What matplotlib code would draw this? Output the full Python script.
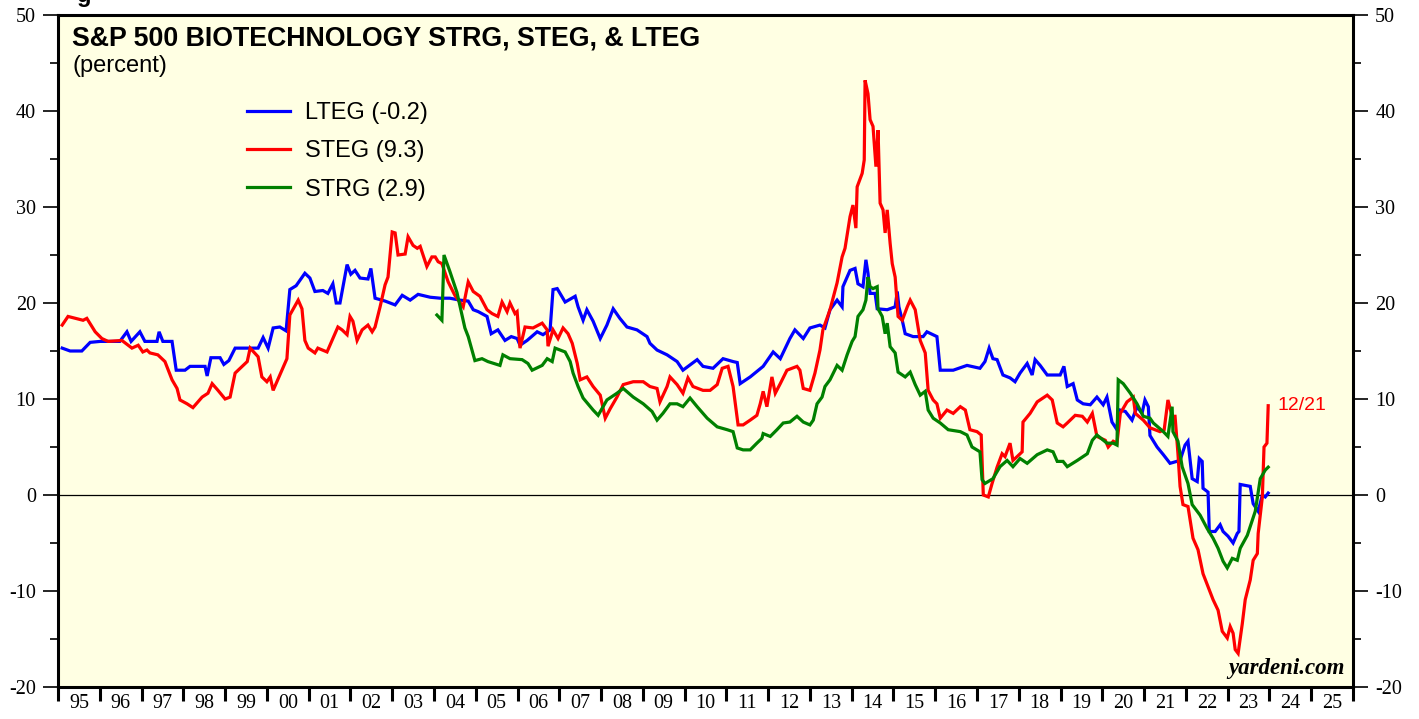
import matplotlib
matplotlib.use("Agg")
import matplotlib.pyplot as plt
from matplotlib.ticker import MultipleLocator, FixedLocator, NullFormatter, FixedFormatter

plt.rcParams["axes.unicode_minus"] = False

# ---------------- data (decimal year, percent) ----------------
lteg_t = [1995.10, 1995.29, 1995.57, 1995.77, 1996.01, 1996.48, 1996.65, 1996.75, 1996.96, 1997.08,
          1997.37, 1997.42, 1997.51, 1997.73, 1997.83, 1998.04, 1998.16, 1998.52, 1998.57, 1998.66,
          1998.88, 1998.97, 1999.09, 1999.24, 1999.79, 1999.91, 2000.03, 2000.15, 2000.31, 2000.46,
          2000.55, 2000.70, 2000.91, 2001.03, 2001.15, 2001.34, 2001.46, 2001.58, 2001.66, 2001.75,
          2001.92, 2002.01, 2002.11, 2002.23, 2002.42, 2002.49, 2002.59, 2002.83, 2003.07, 2003.24,
          2003.43, 2003.62, 2003.91, 2004.15, 2004.38, 2004.62, 2004.82, 2004.94, 2005.06, 2005.27,
          2005.37, 2005.53, 2005.70, 2005.85, 2005.99, 2006.06, 2006.23, 2006.47, 2006.61, 2006.78,
          2006.85, 2006.95, 2007.14, 2007.38, 2007.45, 2007.57, 2007.66, 2007.81, 2007.98, 2008.14,
          2008.29, 2008.45, 2008.62, 2008.86, 2009.10, 2009.17, 2009.34, 2009.58, 2009.82, 2009.96,
          2010.30, 2010.44, 2010.68, 2010.92, 2011.16, 2011.26, 2011.33, 2011.57, 2011.88, 2012.12,
          2012.29, 2012.52, 2012.64, 2012.84, 2013.00, 2013.24, 2013.36, 2013.48, 2013.65, 2013.77,
          2013.79, 2013.96, 2014.08, 2014.15, 2014.27, 2014.34, 2014.39, 2014.44, 2014.56, 2014.61,
          2014.85, 2015.04, 2015.09, 2015.13, 2015.21, 2015.28, 2015.47, 2015.71, 2015.80, 2016.04,
          2016.12, 2016.43, 2016.76, 2017.07, 2017.19, 2017.29, 2017.38, 2017.48, 2017.62, 2017.79,
          2017.91, 2018.03, 2018.20, 2018.32, 2018.39, 2018.51, 2018.68, 2018.99, 2019.08, 2019.16,
          2019.30, 2019.40, 2019.54, 2019.71, 2019.87, 2020.02, 2020.11, 2020.23, 2020.35, 2020.38,
          2020.55, 2020.71, 2020.83, 2020.95, 2021.02, 2021.10, 2021.14, 2021.31, 2021.46, 2021.62,
          2021.86, 2021.98, 2022.05, 2022.15, 2022.27, 2022.32, 2022.39, 2022.41, 2022.53, 2022.56,
          2022.70, 2022.82, 2022.89, 2023.01, 2023.13, 2023.23, 2023.27, 2023.30, 2023.54, 2023.61,
          2023.73, 2023.83, 2023.90, 2023.97]
lteg_v = [15.3, 15.0, 15.0, 15.9, 16.0, 16.0, 17.0, 16.0, 17.0, 16.0,
          16.0, 17.0, 16.0, 16.0, 13.0, 13.0, 13.4, 13.4, 12.4, 14.3,
          14.3, 13.6, 14.0, 15.3, 15.3, 16.4, 15.3, 17.4, 17.5, 17.1,
          21.4, 21.8, 23.1, 22.6, 21.2, 21.3, 21.0, 22.0, 20.0, 20.0,
          24.0, 23.0, 23.4, 22.6, 22.5, 23.6, 20.5, 20.2, 19.8, 20.8,
          20.3, 20.9, 20.6, 20.5, 20.5, 20.3, 20.2, 19.3, 19.1, 18.6,
          16.8, 17.2, 16.1, 16.5, 16.3, 15.6, 16.1, 17.0, 16.7, 17.2,
          21.4, 21.5, 20.1, 20.7, 19.6, 18.2, 19.3, 18.1, 16.3, 17.7,
          19.4, 18.4, 17.5, 17.2, 16.5, 15.8, 15.1, 14.6, 13.9, 13.0,
          14.1, 13.4, 13.2, 14.2, 13.9, 13.8, 11.6, 12.3, 13.4, 14.9,
          14.2, 16.3, 17.2, 16.3, 17.4, 17.7, 17.4, 19.3, 20.3, 19.6,
          21.7, 23.4, 23.6, 22.0, 21.7, 24.5, 23.1, 21.0, 21.0, 19.4,
          19.3, 19.6, 21.2, 19.6, 18.2, 16.8, 16.5, 16.5, 17.0, 16.5,
          13.0, 13.0, 13.5, 13.2, 13.9, 15.3, 14.2, 14.1, 12.5, 12.2,
          11.8, 12.7, 13.7, 12.5, 14.1, 13.5, 12.5, 12.5, 13.4, 11.3,
          11.6, 9.9, 9.5, 9.4, 10.2, 9.4, 10.2, 7.6, 6.8, 8.9,
          8.7, 7.8, 9.2, 8.5, 9.9, 9.2, 6.2, 5.0, 4.2, 3.3,
          3.6, 5.2, 5.6, 1.7, 1.4, 3.8, 3.5, 0.7, 0.3, -3.8,
          -3.8, -3.1, -3.8, -4.3, -5.0, -4.0, -3.8, 1.1, 0.9, -0.9,
          -1.7, 0.0, -0.2, 0.2]

steg_t = [1995.10, 1995.24, 1995.60, 1995.69, 1995.89, 1996.05, 1996.20, 1996.53, 1996.77, 1996.92,
          1997.03, 1997.13, 1997.20, 1997.39, 1997.56, 1997.73, 1997.85, 1997.92, 1998.09, 1998.23,
          1998.45, 1998.59, 1998.69, 1998.83, 1999.00, 1999.12, 1999.24, 1999.41, 1999.53, 1999.60,
          1999.79, 1999.88, 2000.00, 2000.08, 2000.15, 2000.31, 2000.48, 2000.55, 2000.75, 2000.84,
          2000.91, 2000.99, 2001.15, 2001.22, 2001.44, 2001.58, 2001.70, 2001.80, 2001.92, 2001.99,
          2002.06, 2002.16, 2002.28, 2002.42, 2002.52, 2002.59, 2002.71, 2002.83, 2002.90, 2003.00,
          2003.07, 2003.14, 2003.31, 2003.38, 2003.50, 2003.60, 2003.67, 2003.83, 2003.95, 2004.03,
          2004.10, 2004.19, 2004.34, 2004.50, 2004.70, 2004.82, 2004.94, 2005.10, 2005.27, 2005.39,
          2005.53, 2005.63, 2005.75, 2005.82, 2005.94, 2005.99, 2006.06, 2006.18, 2006.37, 2006.59,
          2006.71, 2006.73, 2006.85, 2006.97, 2007.09, 2007.21, 2007.31, 2007.43, 2007.50, 2007.66,
          2007.81, 2007.98, 2008.10, 2008.22, 2008.38, 2008.53, 2008.77, 2009.01, 2009.17, 2009.34,
          2009.41, 2009.58, 2009.65, 2009.82, 2009.96, 2010.08, 2010.20, 2010.44, 2010.61, 2010.78,
          2010.90, 2011.04, 2011.16, 2011.28, 2011.40, 2011.57, 2011.73, 2011.81, 2011.88, 2011.97,
          2012.09, 2012.17, 2012.29, 2012.45, 2012.69, 2012.76, 2012.84, 2013.00, 2013.12, 2013.24,
          2013.31, 2013.48, 2013.65, 2013.77, 2013.84, 2013.96, 2014.03, 2014.10, 2014.13, 2014.25,
          2014.30, 2014.32, 2014.39, 2014.44, 2014.51, 2014.58, 2014.63, 2014.68, 2014.75, 2014.80,
          2014.85, 2014.92, 2014.97, 2015.04, 2015.11, 2015.21, 2015.33, 2015.40, 2015.52, 2015.64,
          2015.76, 2015.83, 2015.95, 2016.04, 2016.12, 2016.28, 2016.43, 2016.60, 2016.72, 2016.83,
          2017.00, 2017.10, 2017.15, 2017.27, 2017.36, 2017.48, 2017.60, 2017.67, 2017.79, 2017.86,
          2017.96, 2018.08, 2018.10, 2018.27, 2018.44, 2018.68, 2018.80, 2018.92, 2019.06, 2019.16,
          2019.35, 2019.52, 2019.64, 2019.76, 2019.87, 2020.07, 2020.14, 2020.26, 2020.35, 2020.43,
          2020.59, 2020.74, 2020.79, 2020.98, 2021.14, 2021.38, 2021.48, 2021.57, 2021.67, 2021.74,
          2021.81, 2021.86, 2021.93, 2022.05, 2022.17, 2022.29, 2022.41, 2022.53, 2022.65, 2022.77,
          2022.87, 2022.99, 2023.06, 2023.13, 2023.18, 2023.25, 2023.35, 2023.42, 2023.54, 2023.61,
          2023.71, 2023.73, 2023.83, 2023.87, 2023.94, 2023.97]
steg_v = [17.7, 18.6, 18.2, 18.4, 17.0, 16.3, 16.0, 16.1, 15.3, 15.6,
          14.9, 15.1, 14.8, 14.6, 13.9, 12.0, 11.1, 9.9, 9.5, 9.1,
          10.2, 10.6, 11.6, 10.9, 10.0, 10.2, 12.7, 13.4, 13.9, 15.3,
          14.4, 12.3, 11.8, 12.3, 10.9, 12.5, 14.2, 18.75, 20.3, 19.4,
          16.1, 15.3, 14.8, 15.3, 14.9, 16.3, 17.5, 17.2, 16.7, 18.6,
          18.1, 16.1, 17.2, 17.7, 17.0, 17.5, 19.6, 21.9, 22.7, 27.4,
          27.3, 25.0, 25.1, 26.9, 26.0, 25.7, 25.9, 23.8, 24.8, 24.8,
          24.3, 24.1, 22.2, 20.8, 19.6, 22.2, 21.2, 20.7, 19.3, 18.9,
          18.6, 20.1, 19.1, 20.0, 18.9, 19.1, 15.3, 17.5, 17.4, 17.9,
          17.2, 15.5, 17.2, 16.3, 17.4, 16.8, 15.8, 13.7, 12.0, 12.3,
          11.3, 10.4, 8.0, 9.0, 10.2, 11.5, 11.8, 11.8, 11.3, 11.1,
          9.7, 11.3, 12.3, 11.5, 10.6, 12.2, 11.3, 10.9, 10.9, 11.5,
          13.2, 13.4, 11.3, 7.3, 7.3, 7.8, 8.3, 9.5, 10.8, 9.2,
          12.3, 10.6, 11.6, 13.0, 13.4, 13.0, 11.1, 10.9, 12.7, 15.1,
          17.2, 19.3, 22.1, 24.8, 25.7, 29.0, 30.2, 27.8, 32.1, 33.5,
          34.9, 43.2, 41.8, 39.1, 38.4, 34.2, 38.0, 30.4, 29.7, 27.3,
          29.7, 26.2, 24.1, 22.7, 18.6, 18.2, 19.6, 20.3, 19.3, 16.1,
          14.8, 10.9, 9.9, 9.5, 8.0, 8.85, 8.5, 9.2, 8.85, 6.8,
          6.6, 6.25, 0.0, -0.2, 1.2, 2.9, 4.3, 4.0, 5.4, 3.6,
          4.0, 4.5, 7.6, 8.5, 9.7, 10.4, 9.9, 7.5, 7.1, 7.5,
          8.3, 8.2, 7.6, 8.5, 6.1, 5.7, 5.0, 5.6, 5.4, 8.5,
          9.7, 10.2, 8.5, 7.8, 7.0, 6.6, 6.8, 9.9, 8.2, 8.2,
          4.3, 0.9, -1.0, -1.2, -4.5, -5.7, -8.2, -9.55, -10.9, -12.0,
          -14.2, -14.9, -13.7, -14.4, -16.1, -16.5, -13.4, -10.9, -8.85, -6.8,
          -6.1, -4.0, -0.2, 5.0, 5.4, 9.3]

strg_t = [2004.07, 2004.19, 2004.24, 2004.38, 2004.55, 2004.74, 2004.82, 2004.98, 2005.15, 2005.29,
          2005.58, 2005.65, 2005.82, 2006.11, 2006.25, 2006.35, 2006.59, 2006.71, 2006.83, 2006.90,
          2007.14, 2007.26, 2007.33, 2007.45, 2007.57, 2007.81, 2007.93, 2008.14, 2008.38, 2008.53,
          2008.77, 2009.01, 2009.22, 2009.34, 2009.48, 2009.65, 2009.82, 2009.96, 2010.13, 2010.30,
          2010.54, 2010.78, 2011.02, 2011.16, 2011.26, 2011.40, 2011.57, 2011.73, 2011.85, 2011.88,
          2012.05, 2012.21, 2012.36, 2012.52, 2012.69, 2012.84, 2013.00, 2013.08, 2013.17, 2013.29,
          2013.36, 2013.48, 2013.65, 2013.77, 2013.89, 2014.01, 2014.08, 2014.15, 2014.27, 2014.34,
          2014.39, 2014.44, 2014.51, 2014.61, 2014.63, 2014.73, 2014.80, 2014.85, 2014.92, 2015.04,
          2015.11, 2015.28, 2015.40, 2015.52, 2015.64, 2015.76, 2015.83, 2015.95, 2016.12, 2016.31,
          2016.60, 2016.76, 2016.88, 2017.07, 2017.12, 2017.19, 2017.38, 2017.55, 2017.72, 2017.86,
          2018.03, 2018.20, 2018.44, 2018.68, 2018.82, 2018.92, 2019.06, 2019.16, 2019.40, 2019.64,
          2019.76, 2019.87, 2020.11, 2020.26, 2020.35, 2020.38, 2020.50, 2020.67, 2020.83, 2020.98,
          2021.14, 2021.22, 2021.46, 2021.57, 2021.67, 2021.69, 2021.81, 2021.91, 2022.05, 2022.15,
          2022.34, 2022.51, 2022.65, 2022.77, 2022.89, 2022.99, 2023.11, 2023.23, 2023.30, 2023.47,
          2023.59, 2023.66, 2023.78, 2023.90, 2023.97]
strg_v = [18.75, 18.2, 25.0, 23.3, 21.1, 17.4, 16.5, 14.0, 14.2, 13.9,
          13.5, 14.6, 14.2, 14.1, 13.7, 13.0, 13.5, 14.2, 13.9, 15.3,
          14.9, 13.9, 12.7, 11.3, 10.1, 8.85, 8.3, 9.9, 10.6, 11.1,
          10.2, 9.5, 8.7, 7.8, 8.5, 9.5, 9.5, 9.2, 10.1, 9.2,
          8.0, 7.1, 6.8, 6.6, 4.9, 4.7, 4.7, 5.4, 5.9, 6.4,
          6.1, 6.8, 7.5, 7.6, 8.2, 7.6, 7.3, 7.8, 9.5, 10.2,
          11.3, 12.0, 13.5, 13.0, 14.6, 16.0, 16.5, 18.6, 19.3, 20.3,
          22.7, 21.7, 21.5, 21.7, 19.4, 18.6, 16.8, 17.9, 15.45, 14.8,
          12.8, 12.3, 12.8, 11.5, 10.4, 10.8, 8.85, 8.0, 7.5, 6.8,
          6.6, 6.25, 5.0, 4.5, 1.6, 1.2, 1.7, 2.95, 3.6, 2.95,
          3.8, 3.3, 4.2, 4.7, 4.5, 3.5, 3.5, 2.95, 3.6, 4.3,
          5.7, 6.25, 5.4, 5.4, 5.2, 12.0, 11.6, 10.6, 9.5, 8.2,
          8.0, 7.5, 6.6, 6.1, 9.2, 6.6, 5.6, 2.95, 1.2, -1.0,
          -2.1, -3.5, -4.5, -5.55, -6.9, -7.6, -6.6, -6.8, -5.55, -4.2,
          -2.6, -1.7, 1.7, 2.6, 2.9]

legend_labels = ["LTEG (-0.2)", "STEG (9.3)", "STRG (2.9)"]
year_labels = ["95", "96", "97", "98", "99", "00", "01", "02", "03", "04", "05",
               "06", "07", "08", "09", "10", "11", "12", "13", "14", "15", "16",
               "17", "18", "19", "20", "21", "22", "23", "24", "25"]
last_date_label = "12/21"

# ---------------- figure ----------------
W, H = 1419, 719
fig = plt.figure(figsize=(W / 100, H / 100), dpi=100)
ax = fig.add_axes([58 / W, 32 / H, 1295 / W, 672 / H])
ax.set_facecolor("#FFFFE3")

BLUE, RED, GREEN = "#0000FF", "#FF0000", "#008000"
lb, = ax.plot(lteg_t, lteg_v, color=BLUE, lw=2.3, solid_joinstyle="miter")
lr, = ax.plot(steg_t, steg_v, color=RED, lw=2.3, solid_joinstyle="miter")
lg, = ax.plot(strg_t, strg_v, color=GREEN, lw=2.3, solid_joinstyle="miter")
ax.axhline(0, color="black", lw=0.9, zorder=1)

ax.set_xlim(1995, 2026)
ax.set_ylim(-20, 50)

serif = "Liberation Serif"
sans = "Liberation Sans"

# y axis
ax.yaxis.set_major_locator(MultipleLocator(10))
ax.yaxis.set_minor_locator(MultipleLocator(5))
ax.tick_params(axis="y", which="major", direction="out", length=11, width=1.2,
               left=True, right=True, labelleft=True, labelright=True, pad=5,
               labelsize=14.5)
ax.tick_params(axis="y", which="minor", direction="out", length=6, width=1.2,
               left=True, right=True)
for lab in ax.get_yticklabels():
    lab.set_fontfamily(serif)

# x axis: ticks at year boundaries, labels centred in each year
years = list(range(1995, 2027))
ax.xaxis.set_major_locator(FixedLocator(years))
ax.xaxis.set_major_formatter(NullFormatter())
ax.xaxis.set_minor_locator(FixedLocator([y + 0.5 for y in range(1995, 2026)]))
ax.xaxis.set_minor_formatter(FixedFormatter(year_labels))
ax.tick_params(axis="x", which="major", direction="out", length=10, width=2.2,
               bottom=True, top=False)
ax.tick_params(axis="x", which="minor", length=0, pad=5, labelsize=14.5)
for lab in ax.get_xticklabels(minor=True):
    lab.set_fontfamily(serif)

for s in ax.spines.values():
    s.set_linewidth(2.2)
    s.set_color("black")

# titles
ax.text(14 / 1295, 0.985, "S&P 500 BIOTECHNOLOGY STRG, STEG, & LTEG",
        transform=ax.transAxes, fontfamily=sans, fontweight="bold", fontsize=19.3,
        va="top", ha="left")
ax.text(14 / 1295, 0.940, "(percent)", transform=ax.transAxes, fontfamily=sans,
        fontsize=17, va="top", ha="left")

leg = ax.legend([lb, lr, lg], legend_labels, loc="upper left",
                bbox_to_anchor=(0.139, 0.884), frameon=False,
                prop={"family": sans, "size": 17}, handlelength=1.8,
                handletextpad=0.62, labelspacing=0.68, borderaxespad=0)

ax.annotate(last_date_label, xy=(steg_t[-1], steg_v[-1]), xytext=(7, 0),
            textcoords="offset points", color=RED, fontfamily=sans, fontsize=14,
            va="center", ha="left")

ax.text(0.9935, 0.012, "yardeni.com", transform=ax.transAxes, fontfamily=serif,
        fontweight="bold", fontstyle="italic", fontsize=16.5, ha="right", va="bottom")

fig.text(77 / W, 1 - 2 / H, "g", fontfamily=sans, fontweight="bold", fontsize=17,
         va="baseline", ha="left")

fig.savefig("out.png", dpi=100, facecolor="white")
